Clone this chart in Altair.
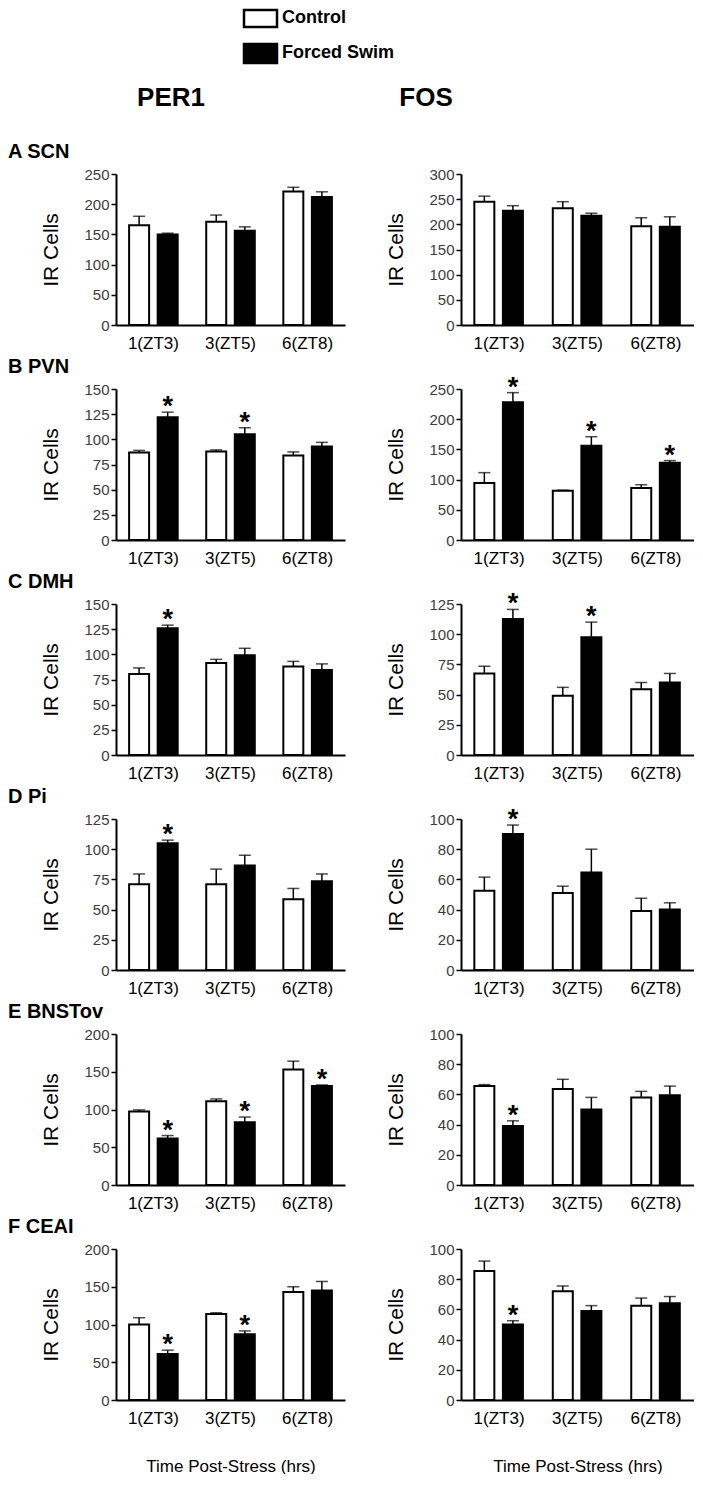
import altair as alt
import pandas as pd

regions = ["A SCN", "B PVN", "C DMH", "D Pi", "E BNSTov", "F CEAI"]
genes = ["PER1", "FOS"]
times = ["1(ZT3)", "3(ZT5)", "6(ZT8)"]
groups = ["Control", "Forced Swim"]

per1_control = [[165, 171, 221], [87, 88, 84], [80.5, 91.5, 88], [71, 71, 58.5], [97.5, 111, 153], [100, 114, 143]]
per1_control_err = [[15, 11, 7], [2, 1.5, 3.5], [6, 3.5, 5], [8.5, 12.5, 9], [2, 3, 11], [9, 1.5, 7]]
per1_swim = [[150, 156, 212], [122, 105, 93], [126, 99, 84.5], [105, 86.5, 73.5], [61.5, 83, 131], [61, 87, 145]]
per1_swim_err = [[2, 6.5, 8.5], [5, 6.5, 4], [3, 7, 6], [2.5, 8.5, 6], [4, 7, 1.5], [5, 4.5, 12]]
per1_sig = [[0, 0, 0], [1, 1, 0], [1, 0, 0], [1, 0, 0], [1, 1, 1], [1, 1, 0]]

fos_control = [[245, 232, 196], [94.5, 81.5, 86], [67.5, 49, 54.5], [52.5, 51, 39], [65.5, 63.5, 58], [85.5, 72, 62.5]]
fos_control_err = [[11, 13, 17], [17, 1, 5.5], [6, 7, 5.5], [9, 4.5, 8.5], [1, 6.5, 4], [6.5, 3.5, 5]]
fos_swim = [[227, 217, 195], [228, 156, 128], [112.5, 97.5, 60], [90, 64.5, 40], [39, 50, 59.5], [50, 59, 64]]
fos_swim_err = [[10, 5, 20], [16, 15, 3.5], [8, 12.5, 7.5], [6, 15.5, 4.5], [3.5, 8, 6], [2.5, 3.5, 4.5]]
fos_sig = [[0, 0, 0], [1, 1, 1], [1, 1, 0], [1, 0, 0], [1, 0, 0], [1, 0, 0]]

per1_ymax = [250, 150, 150, 125, 200, 200]
per1_ystep = [50, 25, 25, 25, 50, 50]
fos_ymax = [300, 250, 125, 100, 100, 100]
fos_ystep = [50, 50, 25, 20, 20, 20]

x_title = "Time Post-Stress (hrs)"
y_title = "IR Cells"

FONT = "Liberation Sans"
H = 151


def panel(ctrl, ctrl_err, swim, swim_err, sig, ymax, ystep, width, title=None, last=False):
    rows = []
    for i, t in enumerate(times):
        rows.append(dict(time=t, group=groups[0], value=ctrl[i], err=ctrl_err[i], star=0))
        rows.append(dict(time=t, group=groups[1], value=swim[i], err=swim_err[i], star=sig[i]))
    df = pd.DataFrame(rows)
    df["upper"] = df["value"] + df["err"]

    xaxis_kw = dict(labelAngle=0, ticks=False, domainColor="black", domainWidth=2,
                    labelFontSize=17, labelColor="black", labelPadding=10, labelFont=FONT)
    if last:
        xaxis_kw.update(title=x_title, titleFontSize=17, titleFontWeight="normal",
                        titleColor="black", titlePadding=32, titleFont=FONT)
    else:
        xaxis_kw.update(title=None)
    x = alt.X("time:N", sort=times, axis=alt.Axis(**xaxis_kw),
              scale=alt.Scale(paddingInner=0.37, paddingOuter=0.17))
    xo = alt.XOffset("group:N", sort=groups, scale=alt.Scale(paddingInner=0.3, paddingOuter=0))

    yaxis = alt.Axis(values=list(range(0, ymax + 1, ystep)), title=y_title, grid=False,
                     domainColor="black", domainWidth=2, tickColor="black", tickWidth=1.5,
                     tickSize=5, labelFontSize=15, labelColor="#3c3c3c", labelPadding=2,
                     labelFont=FONT, titleFont=FONT, titleFontSize=21, titleFontWeight="normal",
                     titleColor="black", titlePadding=22)
    yscale = alt.Scale(domain=[0, ymax], nice=False, zero=True)

    base = alt.Chart(df).encode(x=x, xOffset=xo)
    bars = base.mark_bar(stroke="black", strokeWidth=2).encode(
        y=alt.Y("value:Q", scale=yscale, axis=yaxis),
        fill=alt.Fill("group:N", scale=alt.Scale(domain=groups, range=["white", "black"]), legend=None),
    )
    err = base.mark_rule(color="black", strokeWidth=1.5).encode(
        y=alt.Y("upper:Q", scale=yscale, axis=yaxis), y2="value:Q")
    cap = base.mark_tick(color="black", thickness=1.5, size=12, orient="horizontal").encode(
        y=alt.Y("upper:Q", scale=yscale, axis=yaxis))
    stars = base.transform_filter("datum.star == 1").mark_text(
        text="*", fontSize=27, fontWeight="bold", font=FONT, baseline="middle", dy=-5, color="black"
    ).encode(y=alt.Y("upper:Q", scale=yscale, axis=yaxis))
    layers = [bars, err, cap, stars]
    if title is not None:
        t = alt.Chart(pd.DataFrame({"t": [title]})).mark_text(
            align="left", baseline="middle", fontSize=20, fontWeight="bold", font=FONT, color="black"
        ).encode(x=alt.value(-108), y=alt.value(-22), text="t:N")
        layers.append(t)
    return alt.layer(*layers).properties(width=width, height=H)


# header: legend and column titles (x measured from the left plot's y axis)
hdr_ctrl_box = alt.Chart(pd.DataFrame({"g": [groups[0]]})).mark_rect(
    fill="white", stroke="black", strokeWidth=2.5).encode(
    x=alt.value(128), x2=alt.value(161), y=alt.value(1), y2=alt.value(18))
hdr_swim_box = alt.Chart(pd.DataFrame({"g": [groups[1]]})).mark_rect(
    fill="black", stroke="black", strokeWidth=2.5).encode(
    x=alt.value(128), x2=alt.value(161), y=alt.value(35), y2=alt.value(54))
hdr_ctrl_txt = alt.Chart(pd.DataFrame({"g": [groups[0]]})).mark_text(
    align="left", baseline="middle", fontSize=18, fontWeight="bold", font=FONT, color="black").encode(
    x=alt.value(166), y=alt.value(9), text="g:N")
hdr_swim_txt = alt.Chart(pd.DataFrame({"g": [groups[1]]})).mark_text(
    align="left", baseline="middle", fontSize=18, fontWeight="bold", font=FONT, color="black").encode(
    x=alt.value(166), y=alt.value(44), text="g:N")
hdr_gene1 = alt.Chart(pd.DataFrame({"g": [genes[0]]})).mark_text(
    align="center", baseline="middle", fontSize=26, fontWeight="bold", font=FONT, color="black").encode(
    x=alt.value(55), y=alt.value(89), text="g:N")
hdr_gene2 = alt.Chart(pd.DataFrame({"g": [genes[1]]})).mark_text(
    align="center", baseline="middle", fontSize=26, fontWeight="bold", font=FONT, color="black").encode(
    x=alt.value(310), y=alt.value(89), text="g:N")
header = alt.layer(hdr_ctrl_box, hdr_swim_box, hdr_ctrl_txt, hdr_swim_txt, hdr_gene1, hdr_gene2).properties(
    width=560, height=127)

rows = []
for r in range(6):
    last = r == 5
    left = panel(per1_control[r], per1_control_err[r], per1_swim[r], per1_swim_err[r], per1_sig[r],
                 per1_ymax[r], per1_ystep[r], 229, title=regions[r], last=last)
    right = panel(fos_control[r], fos_control_err[r], fos_swim[r], fos_swim_err[r], fos_sig[r],
                  fos_ymax[r], fos_ystep[r], 233, last=last)
    rows.append(alt.hconcat(left, right, spacing=40))

chart = alt.vconcat(header, *rows, spacing=6).properties(padding=0).configure_view(strokeWidth=0)

chart.save("out.html", embed_options={"renderer": "svg", "actions": False})
